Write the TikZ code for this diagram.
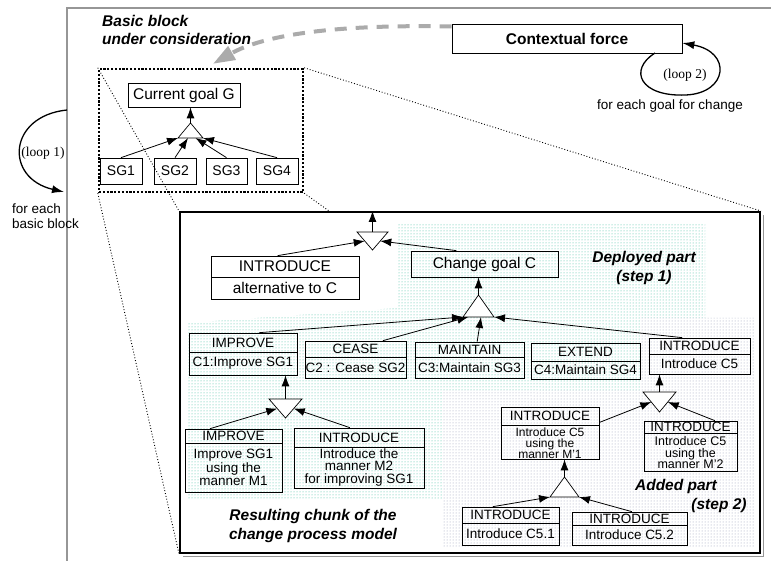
\documentclass[tikz,border=0pt]{standalone}
\usepackage{fontspec}
\setmainfont{Liberation Sans}
\newfontfamily\timesfont{Liberation Serif}
\usetikzlibrary{arrows.meta,calc,fit,patterns}

\definecolor{tealdot}{RGB}{55,185,155}
\definecolor{greydot}{RGB}{150,155,180}
\definecolor{framegrey}{RGB}{150,150,150}

\newcommand{\boxfont}{\fontsize{13.5}{13.5}\selectfont}
\newcommand{\bigfont}{\fontsize{15.5}{16}\selectfont}
\newcommand{\labfont}{\fontsize{15.5}{18.5}\selectfont\bfseries\itshape}

% operator box: [style] name, x1, y1, x2, y2, y of divider, top, bottom
\newcommand{\opbox}[9][]{%
  \node[opframe, fit={(#3,#4) (#5,#6)}] (#2) {};
  \draw[opline] (#3,#7) -- (#5,#7);
  \node[optext] (#2-top) at ($(#3,#4)!0.5!(#5,#7)$) {#8};
  \node[optext,#1] (#2-bot) at ($(#3,#7)!0.5!(#5,#6)$) {#9};
}
% and-triangle: name, x left, x right, y base, y apex
\newcommand{\andtri}[5]{%
  \coordinate (#1-l) at (#2,#4);
  \coordinate (#1-r) at (#3,#4);
  \coordinate (#1-c) at ({(#2+#3)/2},#4);
  \coordinate (#1-a) at ({(#2+#3)/2},#5);
  \draw[opline, fill=white] (#1-l) -- (#1-a) -- (#1-r) -- cycle;
}

\begin{document}
\begin{tikzpicture}[x=1pt,y=-1pt,
  opframe/.style={draw, line width=0.7pt, inner sep=0pt},
  opline/.style={line width=0.7pt},
  optext/.style={font=\boxfont, inner sep=0pt, align=center},
  goalbox/.style={draw, line width=0.7pt, inner sep=0pt, font=\bigfont},
  sgbox/.style={draw, line width=0.7pt, inner sep=0pt, font=\fontsize{14}{14}\selectfont},
  arr/.style={-{Latex[length=11pt,width=8pt]}, line width=0.8pt},
  lab/.style={font=\labfont, inner sep=0pt, align=center},
  note/.style={font=\boxfont, inner sep=0pt},
  loopnote/.style={font=\timesfont\fontsize{13.5}{15}\selectfont, inner sep=0pt},
  zoomline/.style={dotted, line width=0.9pt}]
\useasboundingbox (0,0) rectangle (771,561);

% dotted backgrounds
\fill[pattern=dots, pattern color=tealdot]
  (187,323) -- (398,308) -- (398,223) -- (705,223) -- (705,318) -- (640,318)
  -- (640,390) -- (443,390) -- (443,500) -- (187,500) -- cycle;
\fill[pattern=dots, pattern color=greydot]
  (640,318) -- (755,318) -- (755,548) -- (443,548) -- (443,390) -- (640,390) -- cycle;

% outer frame
\draw[framegrey, line width=1.8pt] (67,561) -- (67,8) -- (771,8);

% basic block
\node[draw, line width=2.4pt, dash pattern=on 2.2pt off 1.6pt, inner sep=0pt,
  fit={(99,69) (303,192)}] (bb) {};
\node[goalbox, fit={(128,83) (240,107)}] (goalG) {};
\node[font=\bigfont, inner sep=0pt] (goalG-t) at (goalG.center) {Current goal G};
\node[sgbox, minimum width=42pt, minimum height=26pt] (sg1) at (121,171) {SG1};
\node[sgbox, minimum width=42pt, minimum height=26pt] (sg2) at (175,171) {SG2};
\node[sgbox, minimum width=41pt, minimum height=26pt] (sg3) at (226.5,171) {SG3};
\node[sgbox, minimum width=42pt, minimum height=26pt] (sg4) at (277,171) {SG4};
\andtri{tG}{178}{203}{138}{123}
\draw[arr] (tG-a) -- (tG-a |- goalG.south);
\draw[arr] (sg1.north) -- (tG-l);
\draw[arr] (sg2.north) -- ($(tG-l)!0.4!(tG-r)$);
\draw[arr] (sg3.north) -- ($(tG-l)!0.7!(tG-r)$);
\draw[arr] (sg4.north) -- (tG-r);

\node[lab, anchor=west, align=left] (bblab) at (102,30) {Basic block\\under consideration};

% contextual force
\node[draw, line width=0.7pt, inner sep=0pt, fit={(452,24) (682,53)}] (ctx) {};
\node[inner sep=0pt, font=\fontsize{15.5}{16}\selectfont\bfseries] (ctx-t) at (ctx.center) {Contextual force};
\draw[framegrey!80, line width=4pt, dash pattern=on 12pt off 9pt,
  -{Triangle[length=22pt,width=15pt]}]
  ($(ctx.west)+(0,-12)$) .. controls (330,24) and (262,36) .. ($(bb.north)+(12,-4)$);

% loops
\draw[line width=1.3pt, -{Latex[length=12pt,width=8pt]}]
  (655,53) .. controls (628,70) and (640,97) .. (686,95)
  .. controls (728,93) and (732,52) .. (ctx.east |- 0,43);
\node[loopnote] (loop2) at (685,75) {(loop 2)};
\node[note] (goalnote) at (670,106) {for each goal for change};

\draw[line width=1.3pt, -{Latex[length=12pt,width=8pt]}]
  (67,110) .. controls (8,116) and (4,178) .. (64,192);
\node[loopnote] (loop1) at (43,153) {(loop 1)};
\node[note, anchor=west, align=left, font=\fontsize{13.5}{15}\selectfont] (blocknote) at (12,216) {for each\\basic block};

% resulting chunk
\node[draw, line width=2pt, inner sep=0pt, fit={(180,212) (760,553)}] (chunk) {};
\draw[framegrey, line width=1pt] (183,556) -- (763,556) -- (763,215);

\draw[zoomline] (bb.north west) -- (chunk.north west);
\draw[zoomline] (bb.south west) -- (chunk.south west);
\draw[zoomline] (bb.north east) -- (chunk.north east);
\draw[zoomline] (bb.south east) -- ($(chunk.north west)+(150,0)$);

\opbox[font=\bigfont]{alt}{211}{256}{359}{299}{277}{\bigfont INTRODUCE}{alternative to C}
\node[goalbox, fit={(411,251) (558,277)}] (chg) {};
\node[font=\bigfont, inner sep=0pt] (chg-t) at (chg.center) {Change goal C};
\andtri{tTop}{357}{388}{232}{250}
\draw[arr] (tTop-c) -- (tTop-c |- chunk.north);
\draw[arr] ($(alt.north west)!0.45!(alt.north east)$) -- ($(tTop-l)!0.5!(tTop-a)$);
\draw[arr] ($(chg.north west)!0.31!(chg.north east)$) -- ($(tTop-r)!0.5!(tTop-a)$);

\node[lab] (deployed) at (644,268) {Deployed part\\(step 1)};

\opbox{imp}{189}{333}{297}{375}{352}{IMPROVE}{C1:Improve SG1}
\opbox{cea}{305}{341}{406}{378}{357}{CEASE}{C2 : Cease SG2}
\opbox{mnt}{415}{342}{524}{378}{357}{MAINTAIN}{C3:Maintain SG3}
\opbox{ext}{531}{343}{640}{379}{361}{EXTEND}{C4:Maintain SG4}
\opbox{inc}{649}{338}{750}{374}{354}{INTRODUCE}{Introduce C5}
\andtri{tC}{463}{494}{317}{295}
\draw[arr] (tC-a) -- (tC-a |- chg.south);
\draw[arr] ($(imp.north west)!0.65!(imp.north east)$) -- (tC-l);
\draw[arr] ($(cea.north west)!0.77!(cea.north east)$) -- ($(tC-l)!0.17!(tC-r)$);
\draw[arr] ($(mnt.north west)!0.57!(mnt.north east)$) -- ($(tC-l)!0.58!(tC-r)$);
\draw[arr] ($(inc.north west)!0.33!(inc.north east)$) -- (tC-r);

\opbox{impm}{185}{429}{282}{492}{443}{IMPROVE}{Improve SG1\\using the\\manner M1}
\opbox[font=\fontsize{13.5}{12.5}\selectfont]{intm}{294}{428}{424}{488}{447}{INTRODUCE}{Introduce the\\manner M2\\for improving SG1}
\andtri{tI}{269}{302}{399}{418}
\draw[arr] (tI-c) -- (tI-c |- imp.south);
\draw[arr] ($(impm.north west)!0.26!(impm.north east)$) -- ($(tI-l)!0.5!(tI-a)$);
\draw[arr] ($(intm.north west)!0.43!(intm.north east)$) -- ($(tI-r)!0.5!(tI-a)$);

\node[lab] (result) at (313,526) {Resulting chunk of the\\change process model};

\opbox[font=\fontsize{12}{10.8}\selectfont, yshift=-1pt]{mp1}{501}{407}{599}{459}{425}{INTRODUCE}{Introduce C5\\using the\\manner M'1}
\opbox[font=\fontsize{12.5}{11.5}\selectfont, yshift=-1pt]{mp2}{644}{421}{737}{471}{433}{INTRODUCE}{Introduce C5\\using the\\manner M'2}
\andtri{tP}{643}{676}{392}{412}
\draw[arr] (tP-c) -- (tP-c |- inc.south);
\draw[arr] ($(mp1.north east)!0.3!(mp1.south east)$) -- ($(tP-l)!0.5!(tP-a)$);
\draw[arr] ($(mp2.north west)!0.76!(mp2.north east)$) -- ($(tP-r)!0.5!(tP-a)$);

\opbox{c51}{462}{507}{559}{545}{523}{INTRODUCE}{Introduce C5.1}
\opbox{c52}{572}{512}{687}{545}{525}{INTRODUCE}{Introduce C5.2}
\andtri{tQ}{550}{579}{497}{477}
\draw[arr] (tQ-a) -- (tQ-a |- mp1.south);
\draw[arr] ($(c51.north west)!0.32!(c51.north east)$) -- (tQ-l);
\draw[arr] ($(c52.north west)!0.52!(c52.north east)$) -- (tQ-r);

\node[lab] (added1) at (676,486) {Added part};
\node[lab] (added2) at (719,505) {(step 2)};
\end{tikzpicture}
\end{document}
